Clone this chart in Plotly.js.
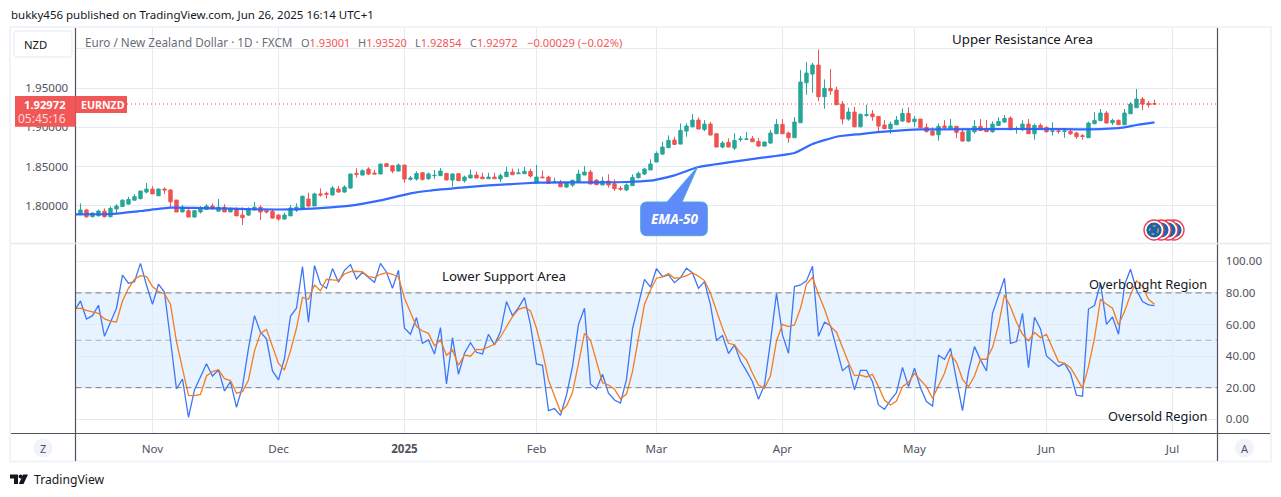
<!DOCTYPE html>
<html><head><meta charset="utf-8">
<script src="https://cdn.plot.ly/plotly-3.0.1.min.js"></script>
<style>html,body{margin:0;padding:0;background:#fff;overflow:hidden}#c{width:1281px;height:497px}</style>
</head><body><div id="c"></div>
<script>
const openPrices=[
1.7894,1.7945,1.786,1.7873,1.793,1.786,1.7958,1.799,1.802,1.807,
1.809,1.8174,1.8212,1.8127,1.8212,1.82,1.8072,1.792,1.7936,1.7855,
1.792,1.7953,1.7995,1.793,1.798,1.792,1.796,1.788,1.788,1.7945,
1.798,1.7936,1.7928,1.788,1.783,1.787,1.7945,1.7966,1.8085,1.7996,
1.815,1.8157,1.8136,1.8212,1.8174,1.8225,1.8412,1.839,1.8467,1.8416,
1.8404,1.8535,1.851,1.8442,1.8518,1.8336,1.834,1.842,1.8344,1.8383,
1.8383,1.8412,1.8327,1.8408,1.8319,1.8353,1.8391,1.8365,1.8344,1.8365,
1.834,1.837,1.8429,1.8408,1.8408,1.8438,1.8289,1.8365,1.8365,1.8293,
1.8298,1.8238,1.8263,1.8306,1.8391,1.8429,1.8327,1.8264,1.8314,1.828,
1.8221,1.82,1.8255,1.8357,1.8404,1.8455,1.8557,1.8659,1.874,1.8837,
1.8786,1.8952,1.9007,1.9092,1.8973,1.9041,1.8918,1.8748,1.8808,1.8735,
1.8846,1.8846,1.8854,1.882,1.8761,1.8799,1.8918,1.9037,1.8927,1.8867,
1.9058,1.9568,1.9679,1.9794,1.939,1.9496,1.9475,1.9296,1.9105,1.9194,
1.9007,1.9152,1.9169,1.9139,1.9029,1.8982,1.9033,1.908,1.9177,1.9071,
1.9105,1.8999,1.8952,1.8905,1.9016,1.899,1.9012,1.8939,1.8825,1.8944,
1.9012,1.8973,1.8944,1.9024,1.9067,1.9118,1.8973,1.8969,1.9041,1.8918,
1.9024,1.8999,1.8948,1.8952,1.8948,1.8948,1.8927,1.8893,1.8867,1.9046,
1.9084,1.9182,1.9058,1.9088,1.9033,1.9173,1.925,1.936,1.9305,1.93001];
const highPrices=[
1.803,1.7958,1.791,1.795,1.7966,1.799,1.802,1.808,1.8115,1.815,
1.819,1.829,1.825,1.822,1.8234,1.8208,1.8072,1.801,1.798,1.7945,
1.7995,1.802,1.803,1.8085,1.802,1.798,1.798,1.798,1.798,1.8047,
1.8004,1.795,1.7945,1.789,1.791,1.801,1.803,1.813,1.8166,1.8166,
1.822,1.818,1.825,1.825,1.826,1.841,1.8476,1.8463,1.849,1.8455,
1.854,1.854,1.852,1.854,1.8518,1.838,1.8438,1.843,1.8425,1.8455,
1.848,1.8412,1.8412,1.8412,1.8383,1.8463,1.8434,1.842,1.842,1.842,
1.8408,1.8497,1.8472,1.8472,1.8497,1.8472,1.8519,1.845,1.8383,1.8357,
1.8327,1.8298,1.8332,1.8459,1.8506,1.8455,1.8336,1.837,1.84,1.8336,
1.825,1.8285,1.84,1.8434,1.8484,1.8591,1.8693,1.8816,1.8897,1.888,
1.905,1.905,1.9169,1.9126,1.9092,1.9067,1.8918,1.8825,1.8859,1.8922,
1.8888,1.8939,1.8888,1.8863,1.8816,1.8965,1.9105,1.9105,1.8944,1.913,
1.973,1.9832,1.9823,1.9993,1.9611,1.9743,1.9517,1.9335,1.925,1.9262,
1.9177,1.9288,1.922,1.9139,1.9092,1.9071,1.9143,1.9241,1.9254,1.9143,
1.9105,1.905,1.8999,1.905,1.9092,1.9105,1.9016,1.8982,1.8978,1.9092,
1.9105,1.9092,1.9075,1.9126,1.9156,1.9139,1.9012,1.9092,1.9105,1.9046,
1.905,1.9012,1.9063,1.8973,1.8978,1.8978,1.8944,1.8914,1.9071,1.9194,
1.9233,1.9207,1.9109,1.9101,1.9233,1.9322,1.9488,1.9386,1.9335,1.9352];
const lowPrices=[
1.788,1.7843,1.785,1.786,1.785,1.785,1.790,1.7985,1.8015,1.807,
1.808,1.8157,1.815,1.8123,1.815,1.798,1.792,1.792,1.7855,1.785,
1.790,1.7945,1.7953,1.793,1.792,1.792,1.787,1.7753,1.787,1.7945,
1.7817,1.790,1.7834,1.781,1.7826,1.787,1.792,1.7966,1.798,1.7996,
1.8115,1.809,1.8136,1.817,1.8166,1.822,1.8357,1.839,1.839,1.8404,
1.8404,1.8497,1.8416,1.8442,1.8293,1.832,1.832,1.832,1.833,1.834,
1.8383,1.8327,1.8242,1.8319,1.8293,1.8353,1.8353,1.8344,1.8344,1.8344,
1.8302,1.837,1.8395,1.8408,1.8404,1.8357,1.8289,1.8357,1.828,1.8293,
1.8242,1.823,1.8238,1.8306,1.8391,1.8276,1.8268,1.8264,1.823,1.8187,
1.8191,1.8187,1.8255,1.8348,1.8391,1.8455,1.8557,1.8646,1.874,1.8774,
1.8786,1.888,1.8999,1.8978,1.8952,1.8901,1.8748,1.8731,1.8748,1.871,
1.8816,1.8842,1.8816,1.8752,1.8752,1.879,1.8918,1.8918,1.8803,1.8867,
1.9058,1.9415,1.9441,1.9335,1.9237,1.9411,1.9288,1.9037,1.9084,1.8999,
1.8999,1.9135,1.9084,1.8931,1.8982,1.8918,1.9033,1.9071,1.9058,1.9003,
1.8995,1.8931,1.8893,1.8829,1.8973,1.899,1.8863,1.8816,1.8816,1.8918,
1.8952,1.8944,1.8931,1.9016,1.9058,1.8969,1.8918,1.8952,1.8918,1.8842,
1.8978,1.8931,1.8897,1.8918,1.8867,1.8901,1.8854,1.8842,1.8867,1.9041,
1.908,1.9054,1.9029,1.9029,1.9029,1.9173,1.925,1.922,1.925,1.92854];
const closePrices=[
1.7945,1.786,1.7906,1.7932,1.786,1.7966,1.7995,1.807,1.808,1.8115,
1.8187,1.8212,1.815,1.8212,1.82,1.805,1.792,1.798,1.7855,1.7936,
1.797,1.7995,1.796,1.798,1.792,1.796,1.787,1.7847,1.796,1.798,
1.792,1.792,1.7843,1.783,1.788,1.797,1.798,1.812,1.7996,1.815,
1.8136,1.8145,1.8225,1.8174,1.8238,1.8404,1.840,1.8446,1.8404,1.8404,
1.853,1.850,1.8442,1.8518,1.834,1.8353,1.841,1.8336,1.8404,1.8387,
1.8442,1.8327,1.8404,1.8319,1.8365,1.8391,1.8353,1.8344,1.8365,1.8344,
1.8383,1.8429,1.8395,1.8416,1.8438,1.8378,1.8365,1.8357,1.8285,1.8302,
1.8242,1.8289,1.8323,1.8404,1.8429,1.8276,1.8268,1.8314,1.8264,1.8217,
1.8212,1.8264,1.8361,1.8412,1.8467,1.8531,1.8667,1.8748,1.8833,1.8782,
1.896,1.9016,1.9092,1.8978,1.9041,1.8901,1.8748,1.8799,1.8748,1.8833,
1.885,1.885,1.8816,1.8761,1.8812,1.8927,1.9037,1.8918,1.8867,1.9067,
1.9577,1.9692,1.9794,1.939,1.9496,1.9466,1.9288,1.9105,1.9194,1.9007,
1.9165,1.916,1.9135,1.9016,1.8982,1.9041,1.9092,1.9177,1.9067,1.9105,
1.8995,1.8948,1.8901,1.9012,1.8999,1.9016,1.8935,1.8825,1.8956,1.9012,
1.8961,1.8944,1.9041,1.9075,1.9114,1.8969,1.8982,1.9041,1.8918,1.9024,
1.8986,1.8944,1.8952,1.8948,1.8952,1.8918,1.888,1.8884,1.9054,1.9088,
1.9182,1.9054,1.9088,1.9033,1.9182,1.9296,1.936,1.9296,1.9288,1.92972];

const emaBars=[-1,0,5,10,15,20,25,30,35,40,45,50,55,58,64,68,71,76,80,86,91,95,96,99,103,108,114,119,122,126,130,134,140,151,162,168,174,176,179];
const emaValues=[1.7888,1.789,1.7894,1.7932,1.7975,1.797,1.7962,1.7953,1.7953,1.797,1.80,1.8068,1.8157,1.8191,1.8234,1.8259,1.8272,1.8293,1.8298,1.8298,1.8302,1.8319,1.8332,1.8387,1.8493,1.8552,1.8616,1.8672,1.8786,1.888,1.8914,1.8944,1.8973,1.8978,1.8978,1.8973,1.8999,1.9029,1.9063];

const rsiBlue=[68.6,
74.9,63.5,65.6,72.2,52.5,61.4,70.3,91.2,86.1,87.1,
98.7,85,72.8,85.5,80.4,50.2,19.2,25.5,1.3,18.6,
27.4,35.2,27.4,31.4,17.9,23.8,7.6,20.7,44.9,65.6,
55.1,50.9,30.6,24.9,38.6,65.2,70.3,96.6,61.4,97.3,
85.5,82.9,95.4,86.7,94.3,97.9,88.8,93.1,89.7,86.7,
98.7,93.1,82.9,94.3,57.6,53.8,64.4,48.1,50.2,41.4,
58,22.4,51.7,28.5,41.8,48.5,42.4,41.4,53.8,47.1,
55.5,74.5,65.6,70.7,77,59.7,35,34.2,5.5,6.8,
2.5,15.4,33.3,60.1,70.3,22.2,19.2,28.5,16.5,12.2,
10.3,25.3,57.2,72.4,88.6,83.6,95.4,90.3,91.4,86.5,
89.7,95.6,92.6,82.9,87.1,72.4,50,53,41.6,47.1,
36.9,30.6,23.8,12.7,21.7,49.2,79.8,53.4,41.8,84,
85,87.6,96.8,52.5,61.4,59.3,44.9,30.8,34,18.6,
31,31,23.8,9.1,6.3,12.2,16.9,32.9,20.7,32.3,
20,11.2,8.4,40.5,38,44.9,24.9,5.5,30.2,46,
37.6,30.6,67.1,78.7,89.3,48.1,49.2,67.1,32.7,64.6,
57.2,40.1,37.1,33.5,35.4,29.1,15.2,14.6,69.8,72,
86.1,60.1,64.8,53.8,85,95,81.9,74.5,72.4,72];
const rsiOrange=[69.8,
70.3,69,67.9,67.1,63.5,62.2,61.6,74.9,82.9,88.6,
90.9,90.3,84,80.8,79.5,72.8,49.2,31.2,15.2,15,
15.8,27.4,30.2,31.4,25.7,24.5,16.5,17.5,24.9,43.3,
54.4,56.8,45.4,35.4,31.4,43.3,57.6,77.2,76,85,
81.4,88.6,88.2,88,92,93.5,93.7,93.3,90.3,89.7,
91.8,92.8,91.8,90.1,76.6,67.1,58.7,55.9,54.4,46.6,
50.2,40.5,43.9,34.2,40.7,39.9,44.3,44.1,46,47.5,
52.1,58.7,65,69.6,70.9,68.6,57.6,42.8,24.9,14.8,
4.9,8.4,16.9,35.4,54.4,50.2,36.5,23.2,21.7,19,
12.9,16,30.2,51.3,72.8,81.9,89.3,90.1,92.2,89.3,
89.7,90.9,92.8,90.5,87.8,79.8,68.2,57.6,48.1,47.1,
41.8,37.6,29.1,21.7,19.6,27.6,49.6,60.1,58.7,59.7,
70.3,85.5,89.9,79.1,69.8,58.7,55.1,44.9,35.9,27.6,
27.9,26.8,28.5,20.7,12.2,9.1,11.6,20.7,23.4,28.9,
24.9,20.7,13.3,20.7,29.1,41.1,36.1,25.3,20.7,27.4,
38,38,45.4,59.7,78.7,71.3,61.4,53.8,49.8,54.9,
51.7,53.8,44.9,36.5,35.4,32.7,26.4,19.6,33.3,51.3,
76,72.8,70.3,59.7,68.2,78.7,87.6,84,76,72.8];

const monthBars=[12,33,54,76,96,117,139,161,182];
const monthLabels=['Nov','Dec','<b>2025</b>','Feb','Mar','Apr','May','Jun','Jul'];
const priceTicks=[1.8,1.85,1.9,1.95,2.0];
const priceTickLabels=['1.80000','1.85000','1.90000','1.95000',''];
const rsiTicks=[0,20,40,60,80,100];
const rsiTickLabels=['0.00','20.00','40.00','60.00','80.00','100.00'];
const lastClose=1.92972;

const W=1281,H=497;
const px=x=>x/W, py=y=>1-y/H;
const FONT='"Noto Sans", sans-serif';
const bars=openPrices.map((_,i)=>i);
const rsiBars=rsiBlue.map((_,i)=>i-1);

const traces=[
 {type:'candlestick',x:bars,open:openPrices,high:highPrices,low:lowPrices,close:closePrices,xaxis:'x',yaxis:'y',
  increasing:{line:{color:'#26a69a',width:1},fillcolor:'#26a69a'},decreasing:{line:{color:'#ef5350',width:1},fillcolor:'#ef5350'},showlegend:false,hoverinfo:'skip'},
 {type:'scatter',mode:'lines',x:emaBars,y:emaValues,xaxis:'x',yaxis:'y',line:{color:'#2962ff',width:2.2,shape:'spline',smoothing:0.5},opacity:0.95,hoverinfo:'skip'},
 {type:'scatter',mode:'lines',x:rsiBars,y:rsiBlue,xaxis:'x',yaxis:'y2',line:{color:'#3f76f5',width:1.3},hoverinfo:'skip'},
 {type:'scatter',mode:'lines',x:rsiBars,y:rsiOrange,xaxis:'x',yaxis:'y2',line:{color:'#f57c20',width:1.3},hoverinfo:'skip'}
];

function txt(x,y,text,o={}){return Object.assign({xref:'paper',yref:'paper',x:px(x),y:py(y),text,showarrow:false,xanchor:'left',yanchor:'middle',
  font:{family:FONT,size:12,color:'#131722'},borderpad:0},o);}
function pRect(x0,y0,x1,y1,o){return Object.assign({type:'rect',xref:'paper',yref:'paper',x0:px(x0),y0:py(y0),x1:px(x1),y1:py(y1),layer:'above',line:{width:0}},o);}
function pLine(x0,y0,x1,y1,color,width){return {type:'line',xref:'paper',yref:'paper',x0:px(x0),y0:py(y0),x1:px(x1),y1:py(y1),layer:'above',line:{color,width}};}
function pCircle(cx,cy,r,o){return Object.assign({type:'circle',xref:'paper',yref:'paper',x0:px(cx-r),x1:px(cx+r),y0:py(cy+r),y1:py(cy-r),layer:'above'},o);}

const calloutPath=['M',[647,202],'L',[667,202],'L',[697.7,166.7],'L',[682,202],'L',[701,202],'Q',[707.3,202],[707.3,208],'L',[707.3,229.5],'Q',[707.3,235.7],[701,235.7],'L',[647,235.7],'Q',[640.7,235.7],[640.7,229.5],'L',[640.7,208],'Q',[640.7,202],[647,202],'Z'];

const flagShapes=[];
[1174,1168,1161,1154].forEach(cx=>{
  flagShapes.push(pCircle(cx,230,10,{fillcolor:'#ffffff',line:{color:'#ef3f4f',width:1.4}}));
  flagShapes.push(pCircle(cx,230,7.6,{fillcolor:'#1c63ac',line:{width:0}}));
});
flagShapes.push(pCircle(1154,230,4.2,{fillcolor:'rgba(0,0,0,0)',line:{color:'#e8b23a',width:1.2,dash:'dot'}}));

const shapes=[
 {type:'rect',xref:'x domain',yref:'y2',x0:0,x1:1,y0:20,y1:80,layer:'below',fillcolor:'rgba(33,150,243,0.11)',line:{width:0}},
 {type:'line',xref:'x domain',yref:'y2',x0:0,x1:1,y0:80,y1:80,layer:'above',line:{color:'#787b86',width:1,dash:'6px,4px'}},
 {type:'line',xref:'x domain',yref:'y2',x0:0,x1:1,y0:50,y1:50,layer:'above',line:{color:'rgba(120,123,134,0.55)',width:1,dash:'6px,4px'}},
 {type:'line',xref:'x domain',yref:'y2',x0:0,x1:1,y0:20,y1:20,layer:'above',line:{color:'#787b86',width:1,dash:'6px,4px'}},
 {type:'line',xref:'paper',yref:'y',x0:px(127),x1:px(1217),y0:lastClose,y1:lastClose,layer:'above',line:{color:'#f23645',width:1,dash:'1px,3px'}},
 pRect(10,27,1271,461.5,{fillcolor:'rgba(0,0,0,0)',line:{color:'#f0f3fa',width:2}}),
 pLine(75.5,28,75.5,461,'#50535e',1.2),
 pLine(1217.5,28,1217.5,461,'#50535e',1.2),
 pLine(11,433.5,1270,433.5,'#50535e',1.2),
 pLine(11,243.5,1270,243.5,'#e6e9f0',1.5),
 pRect(15,96,75.7,126.7,{fillcolor:'#f25757'}),
 pRect(75.7,96,127,113,{fillcolor:'#f25757'}),
 {type:'path',xref:'paper',yref:'paper',layer:'above',fillcolor:'#ffffff',line:{color:'#e6e9f0',width:1},
  path:'M'+px(17)+','+py(31)+' L'+px(69)+','+py(31)+' Q'+px(72)+','+py(31)+' '+px(72)+','+py(34)+' L'+px(72)+','+py(54)+' Q'+px(72)+','+py(57)+' '+px(69)+','+py(57)+' L'+px(17)+','+py(57)+' Q'+px(14)+','+py(57)+' '+px(14)+','+py(54)+' L'+px(14)+','+py(34)+' Q'+px(14)+','+py(31)+' '+px(17)+','+py(31)+' Z'},
 {type:'path',xref:'paper',yref:'paper',layer:'above',fillcolor:'#5f8afa',line:{color:'#4aa8d8',width:1},
  path:calloutPath.map(p=>Array.isArray(p)?(px(p[0])+','+py(p[1])):p).join(' ')},
 ...flagShapes,
 pCircle(43,448,9.5,{fillcolor:'#f0f3fa',line:{width:0}}),
 pCircle(1244.5,448,9.5,{fillcolor:'#f0f3fa',line:{width:0}}),
 {type:'path',xref:'paper',yref:'paper',layer:'above',fillcolor:'#131722',line:{width:0},
  path:'M'+px(10)+','+py(474.5)+' L'+px(18)+','+py(474.5)+' L'+px(18)+','+py(484)+' L'+px(14)+','+py(484)+' L'+px(14)+','+py(478.5)+' L'+px(10)+','+py(478.5)+' Z'},
 pCircle(20.6,476.5,2,{fillcolor:'#131722',line:{width:0}}),
 {type:'path',xref:'paper',yref:'paper',layer:'above',fillcolor:'#131722',line:{width:0},
  path:'M'+px(23)+','+py(474.5)+' L'+px(28)+','+py(474.5)+' L'+px(23.5)+','+py(484)+' L'+px(18.8)+','+py(484)+' Z'}
];

const RED='#f25757', GRAY='#6a6d78';
const annotations=[
 txt(10,15,'bukky456 published on TradingView.com, Jun 26, 2025 16:14 UTC+1',{font:{family:FONT,size:11.5,color:'#131722'}}),
 txt(23,44.5,'NZD',{font:{family:FONT,size:11.3,color:'#131722'}}),
 txt(84,42,'Euro / New Zealand Dollar · 1D · FXCM',{font:{family:FONT,size:11.7,color:GRAY}}),
 txt(300,42,'O<span style="color:'+RED+'">1.93001</span>',{font:{family:FONT,size:11,color:GRAY}}),
 txt(357,42,'H<span style="color:'+RED+'">1.93520</span>',{font:{family:FONT,size:11,color:GRAY}}),
 txt(414,42,'L<span style="color:'+RED+'">1.92854</span>',{font:{family:FONT,size:11,color:GRAY}}),
 txt(469,42,'C<span style="color:'+RED+'">1.92972</span>',{font:{family:FONT,size:11,color:GRAY}}),
 txt(526,42,'−0.00029 (−0.02%)',{font:{family:FONT,size:11.2,color:RED}}),
 txt(1022.5,39,'Upper Resistance Area',{xanchor:'center',font:{family:FONT,size:13.3,color:'#131722'}}),
 txt(504,276,'Lower Support Area',{xanchor:'center',font:{family:FONT,size:13.3,color:'#131722'}}),
 txt(1208,284,'Overbought Region',{xanchor:'right',font:{family:FONT,size:12.8,color:'#131722'}}),
 txt(1208,416,'Oversold Region',{xanchor:'right',font:{family:FONT,size:12.8,color:'#131722'}}),
 txt(67,104.5,'<b>1.92972</b>',{xanchor:'right',font:{family:FONT,size:11.2,color:'#ffffff'}}),
 txt(67,118.5,'05:45:16',{xanchor:'right',font:{family:FONT,size:12,color:'#ffd9d9'}}),
 txt(80,104.5,'<b>EURNZD</b>',{font:{family:FONT,size:10.6,color:'#ffffff'}}),
 txt(674,219,'<b><i>EMA-50</i></b>',{xanchor:'center',font:{family:FONT,size:13.5,color:'#ffffff'}}),
 txt(43,448.5,'Z',{xanchor:'center',font:{family:FONT,size:11,color:'#50535e'}}),
 txt(1244.5,448.5,'A',{xanchor:'center',font:{family:FONT,size:11,color:'#50535e'}}),
 txt(33,479.5,'TradingView',{font:{family:FONT,size:12.2,color:'#131722'}})
];

const GRID='#e3ecf4';
const TICK={family:FONT,size:11.6,color:'#50535e'};
const layout={
 width:W,height:H,margin:{l:0,r:0,t:0,b:0},paper_bgcolor:'#ffffff',plot_bgcolor:'#ffffff',showlegend:false,font:{family:FONT,size:12,color:'#50535e'},
 boxgap:0.2,dragmode:false,
 xaxis:{domain:[px(75.5),px(1217.5)],anchor:'y2',type:'linear',range:[-0.83,189.5],rangeslider:{visible:false},
  tickmode:'array',tickvals:monthBars,ticktext:monthLabels,showgrid:true,gridcolor:GRID,gridwidth:1,zeroline:false,showline:false,
  ticks:'outside',ticklen:5,tickcolor:'rgba(0,0,0,0)',tickfont:TICK},
 yaxis:{domain:[py(243),py(28)],range:[1.7524,2.0267],anchor:'x',side:'left',tickmode:'array',tickvals:priceTicks,ticktext:priceTickLabels,
  showgrid:true,gridcolor:GRID,gridwidth:1,zeroline:false,showline:false,ticks:'outside',ticklen:4,tickcolor:'rgba(0,0,0,0)',tickfont:TICK},
 yaxis2:{domain:[py(433),py(244)],range:[-8.67,110.95],anchor:'x',side:'right',tickmode:'array',tickvals:rsiTicks,ticktext:rsiTickLabels,
  showgrid:true,gridcolor:GRID,gridwidth:1,zeroline:false,showline:false,ticks:'outside',ticklen:5,tickcolor:'rgba(0,0,0,0)',tickfont:TICK},
 shapes,annotations
};
Plotly.newPlot('c',traces,layout,{staticPlot:true,displayModeBar:false,responsive:false});
</script></body></html>
